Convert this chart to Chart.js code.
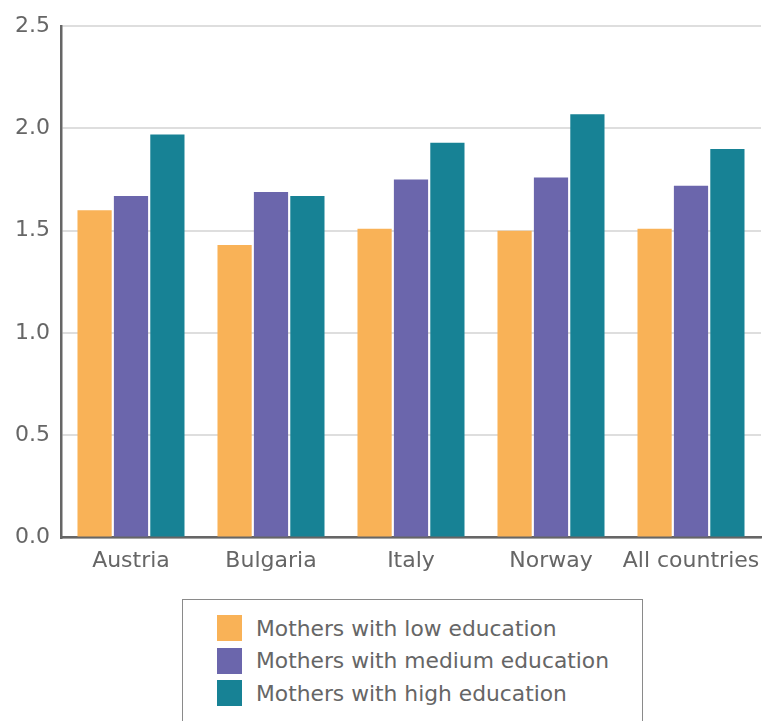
<!DOCTYPE html>
<html>
<head>
<meta charset="utf-8">
<script src="https://cdn.jsdelivr.net/npm/chart.js@4/dist/chart.umd.min.js"></script>
<style>
  html, body { margin: 0; padding: 0; background: #fff; overflow: hidden; }
  body { width: 764px; height: 721px; position: relative; font-family: "DejaVu Sans", sans-serif; }
  #wrap { position: absolute; left: 0; top: 2px; width: 764px; height: 588px; }
  #legend {
    position: absolute; left: 182px; top: 599px; width: 461px; height: 150px;
    border: 1px solid #8a8a8a; box-sizing: border-box; padding: 12px 0 0 34px;
  }
  .item { display: flex; align-items: center; height: 32.5px; color: #666; font-size: 21.8px; }
  .sw { width: 25px; height: 26px; margin-right: 14px; }
</style>
</head>
<body>
<div id="wrap"><canvas id="chart"></canvas></div>
<div id="legend"></div>
<script>
const categories = ['Austria', 'Bulgaria', 'Italy', 'Norway', 'All countries'];
const lowEducation = [1.60, 1.43, 1.51, 1.50, 1.51];
const mediumEducation = [1.67, 1.69, 1.75, 1.76, 1.72];
const highEducation = [1.97, 1.67, 1.93, 2.07, 1.90];
const seriesNames = ['Mothers with low education', 'Mothers with medium education', 'Mothers with high education'];
const colors = ['#f9b257', '#6b66ac', '#178295'];

const values = [lowEducation, mediumEducation, highEducation];
const datasets = seriesNames.map((name, i) => ({
  label: name,
  data: values[i],
  backgroundColor: colors[i],
  categoryPercentage: 0.78,
  barPercentage: 0.94
}));

const chart = new Chart(document.getElementById('chart').getContext('2d'), {
  type: 'bar',
  data: { labels: categories, datasets },
  options: {
    responsive: true,
    maintainAspectRatio: false,
    animation: false,
    layout: { padding: { left: 4, right: 3, top: 19, bottom: 6 } },
    plugins: { legend: { display: false }, tooltip: { enabled: false } },
    scales: {
      x: {
        grid: { display: false, drawTicks: false },
        border: { color: '#666', width: 2.5 },
        afterFit: scale => { scale.paddingRight = 0; },
        ticks: {
          color: '#666', font: { family: 'DejaVu Sans', size: 22 }, padding: 10,
          maxRotation: 0, minRotation: 0, autoSkip: false
        }
      },
      y: {
        min: 0, max: 2.5,
        grid: { color: '#dedede', lineWidth: 2, drawTicks: false },
        border: { color: '#666', width: 2.5 },
        ticks: {
          stepSize: 0.5, color: '#666', padding: 11,
          font: { family: 'DejaVu Sans', size: 22 },
          callback: v => Number(v).toFixed(1)
        }
      }
    }
  }
});

document.getElementById('legend').innerHTML = chart.data.datasets.map(d =>
  `<div class="item"><span class="sw" style="background:${d.backgroundColor}"></span>${d.label}</div>`
).join('');
</script>
</body>
</html>
